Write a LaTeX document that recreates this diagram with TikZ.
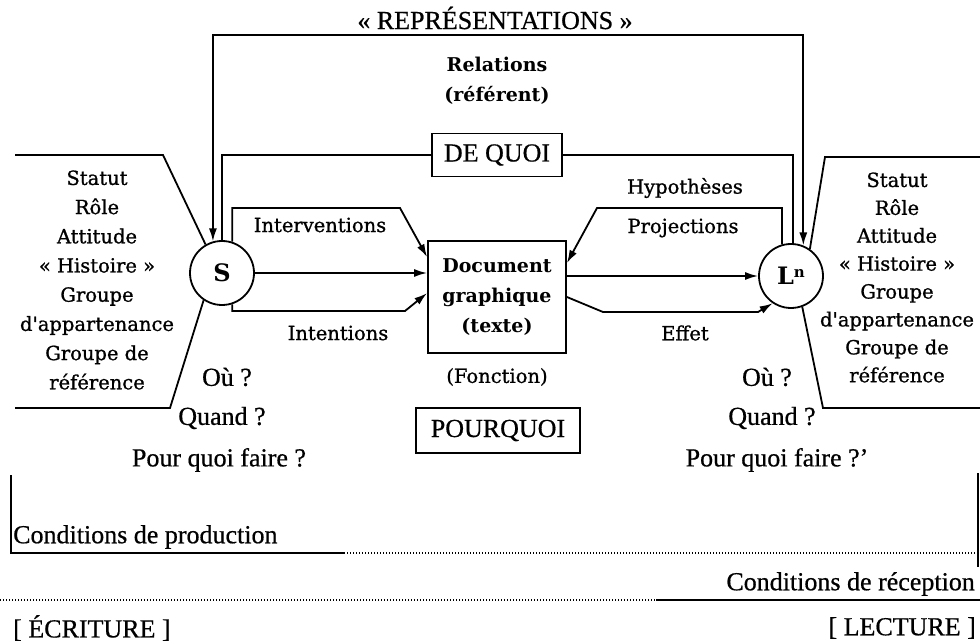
\documentclass[tikz,border=0pt]{standalone}
\usepackage{fontspec}
\setmainfont{Liberation Serif}[FakeBold=0.6]
\newfontfamily\dvs{DejaVu Serif}[FakeBold=1.0]
\newfontfamily\dvsb{DejaVu Serif Bold}
\usetikzlibrary{arrows.meta,calc}
\tikzset{
  ln/.style={line width=1.8pt, line join=miter},
  arr/.style={ln, -{Latex[length=13pt,width=8pt]}},
  lab/.style={font=\dvs\fontsize{19.5}{24}\selectfont, inner sep=0pt},
  lbl/.style={font=\fontsize{26}{30}\selectfont, inner sep=0pt},
  circ/.style={circle, draw, line width=1.8pt, minimum size=64pt, inner sep=0pt, font=\dvsb\fontsize{24}{28}\selectfont},
  boxn/.style={draw, line width=1.8pt, inner sep=0pt},
  dots/.style={line width=1.2pt, dash pattern=on 1.2pt off 1.8pt},
  side/.style={font=\dvs\fontsize{19.5}{29.2}\selectfont, inner sep=0pt, align=center},
}
\begin{document}
\begin{tikzpicture}[x=1pt,y=-1pt]
\useasboundingbox (0,0) rectangle (980,644);
% title
\node[lbl] (rep) at (495,18) {« REPRÉSENTATIONS »};
\node[lab, font=\dvsb\fontsize{19}{30}\selectfont, align=center] (rel) at (497,81) {Relations\\(référent)};
% main nodes
\node[circ] (S) at (222,273) {S};
\node[circ] (L) at (791,276) {L\raisebox{7pt}{\fontsize{15}{15}\selectfont n}};
\node[boxn, minimum width=138pt, minimum height=112pt, align=center,
      font=\dvsb\fontsize{19}{30}\selectfont] (doc) at (497,297) {Document\\graphique\\(texte)};
\node[boxn, lbl, minimum width=130pt, minimum height=43pt] (dequoi) at (497,155) {DE QUOI};
\node[boxn, lbl, minimum width=164pt, minimum height=45pt] (pourquoi) at (498,430.5) {POURQUOI};
% top loop
\coordinate (topy) at (0,35);
\draw[ln, {Latex[length=13pt,width=8pt]}-{Latex[length=13pt,width=8pt]}]
  (S.106) -- (S.106 |- topy) -- (L.68 |- topy) -- (L.68);
% DE QUOI line
\draw[ln] (S.north) |- (dequoi.west);
\draw[ln] (dequoi.east) -| (L.86);
% Interventions
\coordinate (i1) at (400,208);
\draw[arr] (S.72) |- (i1) -- ([yshift=-17pt]doc.north west);
% middle
\draw[arr] (S.east) -- (doc.west |- S.east);
% Intentions
\coordinate (i2) at (405,311);
\draw[arr] (S.288) |- (i2) -- ([yshift=-53pt]doc.north west);
% Projections
\coordinate (p1) at (597,208);
\draw[arr] (L.106) |- (p1) -- ([yshift=-23pt]doc.north east);
% doc -> L
\draw[arr] (doc.east |- L.west) -- (L.west);
% Effet
\coordinate (e1) at (603,312);
\coordinate (e2) at (758,312);
\draw[arr] (doc.east) -- (e1) -- (e2) -- (L.236);
% side polygons
\draw[ln] (15,155) -- (163,155) -- (S.120);
\draw[ln] (S.236) -- (170,408) -- (15,408);
\draw[ln] (980,157) -- (825,157) -- (L.55);
\draw[ln] (L.290) -- (823,408) -- (980,408);
% labels
\node[lab] (interv) at (320,225) {Interventions};
\node[lab] (intent) at (338,333) {Intentions};
\node[lab] (hyp) at (685,188) {Hypothèses};
\node[lab] (proj) at (683,228) {Projections};
\node[lab] (effet) at (685,333) {Effet};
\node[lab] (fonc) at (497,377) {(Fonction)};
\node[side] (leftblk) at (97,280) {Statut\\Rôle\\Attitude\\« Histoire »\\Groupe\\d'appartenance\\Groupe de\\référence};
\node[side, font=\dvs\fontsize{19.5}{27.9}\selectfont] (rightblk) at (897,277.5) {Statut\\Rôle\\Attitude\\« Histoire »\\Groupe\\d'appartenance\\Groupe de\\référence};
\node[lbl] (ou1) at (227,377) {Où ?};
\node[lbl] (qd1) at (222,418) {Quand ?};
\node[lbl] (pq1) at (219,460) {Pour quoi faire ?};
\node[lbl] (ou2) at (767,377) {Où ?};
\node[lbl] (qd2) at (772,418) {Quand ?};
\node[lbl] (pq2) at (777,460) {Pour quoi faire ?’};
% bottom
\draw[ln] (11,475) -- (11,553) -- (344,553);
\draw[dots] (344,553) -- (980,553);
\node[lbl, anchor=west] (cprod) at (13,537) {Conditions de production};
\draw[ln] (978,473) -- (978,567);
\node[lbl, anchor=east] (crec) at (975,584) {Conditions de réception};
\draw[dots] (0,600) -- (656,600);
\draw[ln] (656,600) -- (980,600);
\node[lbl, anchor=west] (ecr) at (13,628) {[ ÉCRITURE ]};
\node[lbl, anchor=east] (lec) at (976,628) {[ LECTURE ]};
\end{tikzpicture}
\end{document}
